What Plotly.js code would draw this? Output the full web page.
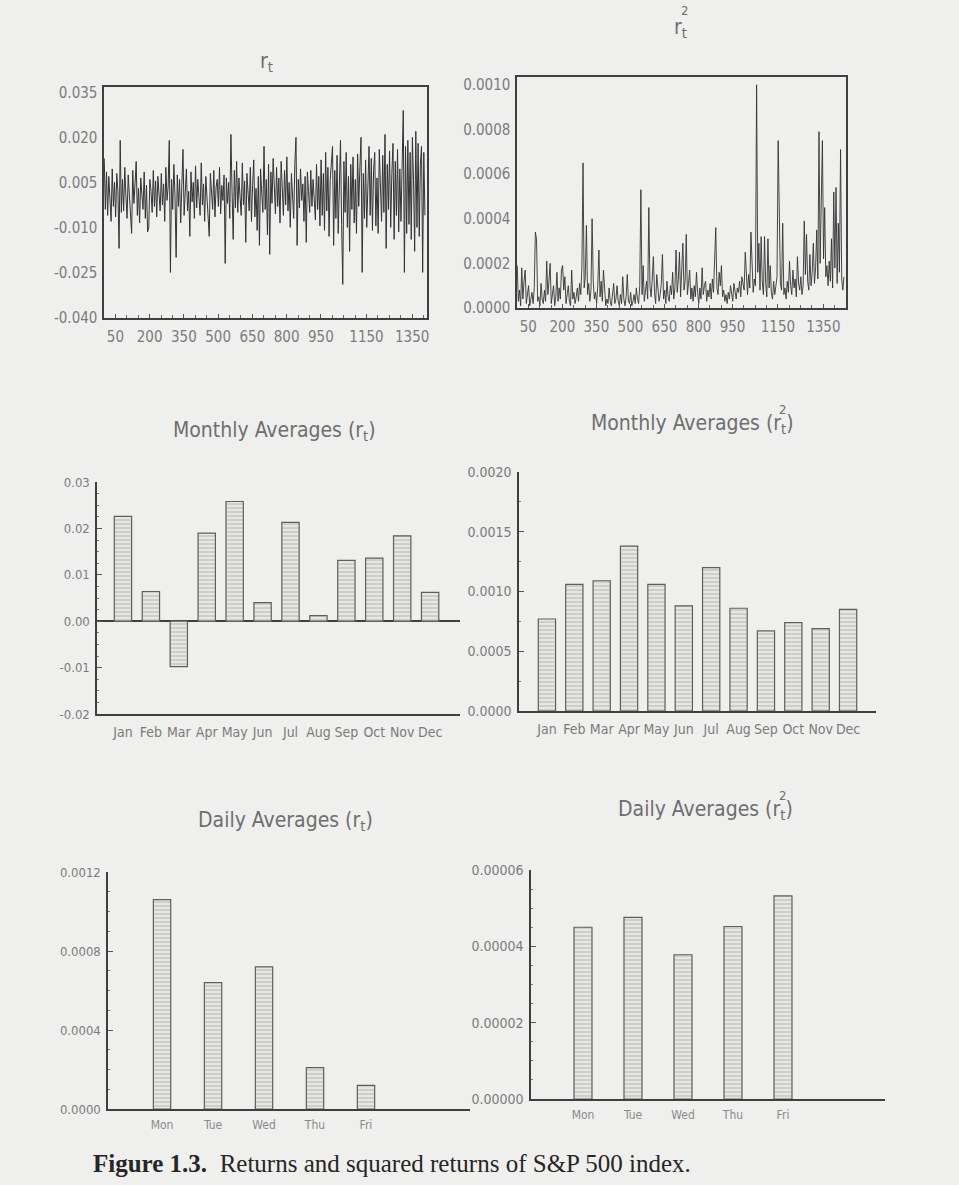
<!DOCTYPE html>
<html>
<head>
<meta charset="utf-8">
<script src="https://cdn.plot.ly/plotly-3.0.1.min.js"></script>
<style>
html,body{margin:0;padding:0;background:#efefed;}
#chart{width:959px;height:1185px;}
</style>
</head>
<body>
<div id="chart"></div>
<script>
// ---------------- DATA ----------------
// daily returns r_t (read every 5th trading day from the picture)
const returnsRt = [
 0.0130,-0.0040,0.0085,-0.0060,0.0070,0.0010,-0.0080,0.0095,-0.0030,0.0050,
 -0.0065,0.0080,0.0020,-0.0170,0.0190,-0.0050,0.0060,-0.0045,0.0100,0.0005,
 -0.0070,0.0075,0.0015,-0.0055,-0.0120,0.0090,-0.0020,0.0045,0.0120,-0.0060,
 0.0030,-0.0085,0.0065,0.0010,-0.0040,0.0085,-0.0070,0.0040,-0.0115,-0.0100,
 0.0060,0.0020,-0.0050,0.0090,-0.0030,0.0055,-0.0065,0.0070,0.0005,-0.0045,
 0.0080,-0.0025,0.0045,-0.0080,0.0100,-0.0010,0.0035,0.0190,-0.0250,0.0060,
 -0.0040,0.0110,0.0005,-0.0200,0.0075,-0.0030,0.0060,-0.0085,0.0040,0.0160,
 -0.0060,0.0030,0.0095,-0.0045,0.0020,-0.0130,0.0085,-0.0015,0.0050,-0.0070,
 0.0105,-0.0035,0.0060,0.0000,-0.0060,0.0115,-0.0025,0.0045,-0.0080,0.0070,
 0.0010,-0.0050,-0.0130,0.0080,0.0025,-0.0040,0.0090,-0.0065,0.0035,0.0060,
 -0.0030,0.0100,-0.0055,0.0040,-0.0010,0.0075,-0.0220,0.0065,-0.0020,0.0050,
 -0.0070,0.0210,0.0020,-0.0140,0.0090,-0.0035,0.0120,-0.0050,0.0065,0.0010,
 -0.0060,0.0115,-0.0025,0.0055,-0.0150,0.0080,0.0005,-0.0045,0.0100,-0.0080,
 0.0040,0.0125,-0.0065,0.0030,-0.0110,0.0070,-0.0160,0.0095,0.0015,-0.0050,
 0.0170,-0.0040,0.0060,-0.0125,0.0110,-0.0190,0.0085,-0.0020,0.0130,0.0005,
 -0.0055,0.0100,-0.0030,0.0065,-0.0085,0.0120,0.0020,-0.0060,0.0090,-0.0025,
 0.0135,-0.0045,0.0050,-0.0100,0.0080,0.0010,-0.0070,0.0110,0.0200,-0.0160,
 0.0060,-0.0035,0.0095,-0.0010,0.0045,-0.0080,0.0070,-0.0150,0.0085,0.0020,
 -0.0050,0.0090,-0.0030,0.0060,0.0005,-0.0075,0.0110,-0.0040,0.0070,-0.0095,
 0.0125,-0.0060,0.0080,-0.0110,0.0150,-0.0045,0.0100,-0.0130,0.0060,0.0130,
 0.0170,-0.0160,0.0090,-0.0070,0.0140,-0.0120,0.0055,0.0190,-0.0090,-0.0290,
 0.0120,-0.0050,0.0150,-0.0100,0.0070,-0.0180,0.0110,-0.0040,0.0135,-0.0085,
 0.0060,-0.0120,0.0145,-0.0030,0.0100,0.0200,-0.0250,0.0080,-0.0070,0.0125,
 -0.0100,0.0050,0.0170,-0.0060,0.0130,-0.0110,0.0090,0.0150,-0.0095,0.0065,
 -0.0120,0.0160,0.0020,-0.0080,0.0140,-0.0050,0.0210,-0.0170,0.0110,-0.0040,
 0.0155,-0.0100,0.0080,0.0180,-0.0140,0.0120,-0.0060,0.0160,-0.0115,0.0095,
 -0.0080,0.0140,0.0290,-0.0250,0.0170,-0.0120,0.0190,-0.0090,0.0150,-0.0140,
 0.0200,0.0060,-0.0180,0.0220,-0.0100,0.0180,-0.0130,0.0110,0.0170,-0.0250,
 0.0150,-0.0060
];
// squared returns r_t^2 (read every 5th trading day from the picture)
const squaredRt2 = [
 0.00019,0.00003,0.00008,0.00001,0.00018,0.00004,0.00012,0.00017,0.00002,0.00006,
 0.00010,0.00001,0.00004,0.00007,0.00002,0.00009,0.00034,0.00031,0.00003,0.00005,
 0.00001,0.00011,0.00004,0.00002,0.00008,0.00003,0.00021,0.00006,0.00012,0.00020,
 0.00002,0.00007,0.00010,0.00001,0.00005,0.00016,0.00003,0.00009,0.00004,0.00017,
 0.00019,0.00008,0.00014,0.00002,0.00006,0.00010,0.00003,0.00001,0.00017,0.00004,
 0.00007,0.00002,0.00005,0.00009,0.00003,0.00011,0.00006,0.00018,0.00065,0.00009,
 0.00014,0.00037,0.00006,0.00011,0.00003,0.00008,0.00040,0.00012,0.00004,0.00007,
 0.00002,0.00010,0.00026,0.00005,0.00012,0.00003,0.00017,0.00006,0.00001,0.00004,
 0.00002,0.00009,0.00003,0.00001,0.00006,0.00011,0.00002,0.00004,0.00010,0.00003,
 0.00001,0.00006,0.00002,0.00014,0.00004,0.00001,0.00005,0.00015,0.00003,0.00002,
 0.00007,0.00001,0.00003,0.00006,0.00002,0.00009,0.00004,0.00002,0.00010,0.00053,
 0.00006,0.00019,0.00003,0.00008,0.00012,0.00004,0.00045,0.00010,0.00005,0.00013,
 0.00023,0.00007,0.00002,0.00015,0.00009,0.00003,0.00006,0.00011,0.00024,0.00004,
 0.00008,0.00002,0.00012,0.00005,0.00003,0.00010,0.00006,0.00016,0.00004,0.00009,
 0.00026,0.00007,0.00013,0.00025,0.00005,0.00015,0.00029,0.00008,0.00012,0.00033,
 0.00006,0.00011,0.00017,0.00004,0.00009,0.00003,0.00010,0.00005,0.00016,0.00007,
 0.00002,0.00009,0.00004,0.00018,0.00006,0.00010,0.00012,0.00003,0.00008,0.00005,
 0.00011,0.00004,0.00013,0.00007,0.00021,0.00036,0.00009,0.00006,0.00016,0.00010,
 0.00019,0.00005,0.00008,0.00003,0.00006,0.00002,0.00007,0.00004,0.00010,0.00005,
 0.00003,0.00011,0.00006,0.00004,0.00009,0.00007,0.00012,0.00005,0.00014,0.00010,
 0.00008,0.00025,0.00012,0.00006,0.00015,0.00009,0.00034,0.00018,0.00007,0.00013,
 0.00010,0.00100,0.00016,0.00029,0.00008,0.00032,0.00012,0.00006,0.00032,0.00011,
 0.00005,0.00031,0.00009,0.00019,0.00007,0.00004,0.00012,0.00006,0.00010,0.00014,
 0.00075,0.00051,0.00011,0.00008,0.00038,0.00006,0.00009,0.00004,0.00012,0.00007,
 0.00021,0.00010,0.00006,0.00017,0.00009,0.00013,0.00005,0.00023,0.00011,0.00008,
 0.00014,0.00006,0.00010,0.00039,0.00015,0.00033,0.00012,0.00008,0.00024,0.00010,
 0.00016,0.00029,0.00011,0.00018,0.00035,0.00013,0.00079,0.00020,0.00049,0.00075,
 0.00022,0.00045,0.00014,0.00019,0.00010,0.00021,0.00012,0.00031,0.00009,0.00052,
 0.00018,0.00054,0.00011,0.00038,0.00016,0.00071,0.00013,0.00008,0.00014
];
const dayStep = 5;

const seriesXTicks = [50, 200, 350, 500, 650, 800, 950, 1150, 1350];
const rtYTickVals = [0.035, 0.020, 0.005, -0.010, -0.025, -0.040];
const rtYTickText = ['0.035', '0.020', '0.005', '-0.010', '-0.025', '-0.040'];
const rt2YTickVals = [0, 0.0002, 0.0004, 0.0006, 0.0008, 0.0010];
const rt2YTickText = ['0.0000', '0.0002', '0.0004', '0.0006', '0.0008', '0.0010'];

const monthLabels = ['Jan','Feb','Mar','Apr','May','Jun','Jul','Aug','Sep','Oct','Nov','Dec'];
const monthlyRt  = [0.0226, 0.0064, -0.0098, 0.0190, 0.0258, 0.0040, 0.0213, 0.0012, 0.0131, 0.0136, 0.0184, 0.0062];
const monthlyRt2 = [0.00077, 0.00106, 0.00109, 0.00138, 0.00106, 0.00088, 0.00120, 0.00086, 0.00067, 0.00074, 0.00069, 0.00085];
const monthlyRtTickVals  = [0.03, 0.02, 0.01, 0.00, -0.01, -0.02];
const monthlyRtTickText  = ['0.03', '0.02', '0.01', '0.00', '-0.01', '-0.02'];
const monthlyRt2TickVals = [0, 0.0005, 0.0010, 0.0015, 0.0020];
const monthlyRt2TickText = ['0.0000', '0.0005', '0.0010', '0.0015', '0.0020'];

const dayLabels = ['Mon','Tue','Wed','Thu','Fri'];
const dailyRt  = [0.00106, 0.00064, 0.00072, 0.00021, 0.00012];
const dailyRt2 = [0.0000450, 0.0000476, 0.0000378, 0.0000452, 0.0000532];
const dailyRtTickVals  = [0, 0.0004, 0.0008, 0.0012];
const dailyRtTickText  = ['0.0000', '0.0004', '0.0008', '0.0012'];
const dailyRt2TickVals = [0, 0.00002, 0.00004, 0.00006];
const dailyRt2TickText = ['0.00000', '0.00002', '0.00004', '0.00006'];

// ---------------- LAYOUT HELPERS ----------------
const W = 959, H = 1185;
const NARROW = '"DejaVu Sans Condensed", "Liberation Sans Narrow", sans-serif';
const LABEL = '#7b7b7b';
const AXIS = '#3f3f3f';
function dx(a, b) { return [a / W, b / W]; }
function dy(top, bottom) { return [1 - bottom / H, 1 - top / H]; }

const returnsDays = returnsRt.map((_, i) => 1 + dayStep * i);
const squaredDays = squaredRt2.map((_, i) => 1 + dayStep * i);
const minorSeriesTicks = [];
for (let v = 0; v <= 1450; v += 50) minorSeriesTicks.push(v);

const barMarker = {
  color: '#e6e6e3',
  line: { color: '#5e5e5e', width: 1.2 },
  pattern: { shape: '-', fgcolor: '#b5b5b2', bgcolor: '#e6e6e3', size: 4, solidity: 0.25 }
};

const traces = [
  { type: 'scatter', mode: 'lines', x: returnsDays, y: returnsRt, xaxis: 'x', yaxis: 'y',
    line: { color: '#333333', width: 1.0 }, hoverinfo: 'skip' },
  { type: 'scatter', mode: 'lines', x: squaredDays, y: squaredRt2, xaxis: 'x2', yaxis: 'y2',
    line: { color: '#333333', width: 0.9 }, hoverinfo: 'skip' },
  { type: 'bar', x: monthLabels, y: monthlyRt, xaxis: 'x3', yaxis: 'y3', width: 0.62, marker: barMarker },
  { type: 'bar', x: monthLabels, y: monthlyRt2, xaxis: 'x4', yaxis: 'y4', width: 0.63, marker: barMarker },
  { type: 'bar', x: dayLabels, y: dailyRt, xaxis: 'x5', yaxis: 'y5', width: 0.34, marker: barMarker },
  { type: 'bar', x: dayLabels, y: dailyRt2, xaxis: 'x6', yaxis: 'y6', width: 0.36, marker: barMarker }
];

function frameX(anchor, domain, range, size) {
  return {
    anchor: anchor, domain: domain, range: range, showgrid: false, zeroline: false,
    showline: true, mirror: true, linecolor: AXIS, linewidth: 1.6,
    tickmode: 'array', tickvals: seriesXTicks, ticktext: seriesXTicks.map(String),
    ticks: 'inside', ticklen: 4, tickcolor: '#555',
    minor: { tickmode: 'array', tickvals: minorSeriesTicks, ticks: 'inside', ticklen: 3, tickcolor: '#666' },
    tickfont: { family: NARROW, size: size, color: LABEL }, ticklabelstandoff: 4
  };
}
function frameY(anchor, domain, range, vals, text, size) {
  return {
    anchor: anchor, domain: domain, range: range, showgrid: false, zeroline: false,
    showline: true, mirror: true, linecolor: AXIS, linewidth: 1.6,
    tickmode: 'array', tickvals: vals, ticktext: text, ticks: '',
    tickfont: { family: NARROW, size: size, color: LABEL }, ticklabelstandoff: 2
  };
}
function barX(anchor, domain, range, size, standoff, color) {
  return {
    anchor: anchor, domain: domain, range: range, type: 'category', showgrid: false, zeroline: false,
    showline: true, linecolor: AXIS, linewidth: 1.6, ticks: '',
    tickfont: { family: NARROW, size: size, color: color || LABEL }, ticklabelstandoff: standoff
  };
}
function barY(anchor, domain, range, vals, text, size, minorStep) {
  return {
    anchor: anchor, domain: domain, range: range, showgrid: false, zeroline: false,
    showline: true, linecolor: AXIS, linewidth: 1.6,
    tickmode: 'array', tickvals: vals, ticktext: text,
    ticks: 'inside', ticklen: 5, tickcolor: '#555',
    minor: { tickmode: 'linear', tick0: 0, dtick: minorStep, ticks: 'inside', ticklen: 2, tickcolor: '#777' },
    tickfont: { family: NARROW, size: size, color: LABEL }, ticklabelstandoff: 3
  };
}

const titleFont = { family: NARROW, size: 21, color: '#6e6e6e' };
function ann(text, px, py, font, anchor) {
  return { text: text, x: px / W, y: 1 - py / H, xref: 'paper', yref: 'paper',
    xanchor: anchor || 'center', yanchor: 'middle', showarrow: false, font: font || titleFont };
}
const supFont = { family: NARROW, size: 13, color: '#6e6e6e' };

const layout = {
  width: W, height: H,
  margin: { l: 0, r: 0, t: 0, b: 0 },
  paper_bgcolor: '#efefed', plot_bgcolor: 'rgba(0,0,0,0)',
  showlegend: false, bargap: 0,
  xaxis:  frameX('y', dx(104, 427), [0, 1415], 15),
  yaxis:  frameY('x', dy(87, 318), [-0.0402, 0.0368], rtYTickVals, rtYTickText, 15),
  xaxis2: frameX('y2', dx(517, 846), [0, 1450], 15),
  yaxis2: frameY('x2', dy(77, 308), [0, 0.001035], rt2YTickVals, rt2YTickText, 15),
  xaxis3: barX('y3', dx(97, 460), [-0.93, 12.07], 14, 5),
  yaxis3: Object.assign(barY('x3', dy(482, 714), [-0.02, 0.03], monthlyRtTickVals, monthlyRtTickText, 13, 0.0025),
                        { zeroline: true, zerolinecolor: AXIS, zerolinewidth: 1.6 }),
  xaxis4: barX('y4', dx(519, 876), [-1.02, 12.02], 14, 5),
  yaxis4: barY('x4', dy(472, 711), [0, 0.0020], monthlyRt2TickVals, monthlyRt2TickText, 14, 0.00025),
  xaxis5: barX('y5', dx(108, 470), [-1.06, 6.04], 12, 4, '#8a8a8a'),
  yaxis5: barY('x5', dy(872, 1109), [0, 0.0012], dailyRtTickVals, dailyRtTickText, 13, 0.0001),
  xaxis6: barX('y6', dx(531, 885), [-1.04, 6.04], 12, 4, '#8a8a8a'),
  yaxis6: barY('x6', dy(870, 1099), [0, 0.00006], dailyRt2TickVals, dailyRt2TickText, 14, 0.000005),
  annotations: [
    ann('r<sub>t</sub>', 266, 62),
    ann('r<sub>t</sub>', 680, 28),
    ann('2', 684, 10, supFont),
    ann('Monthly Averages (r<sub>t</sub>)', 274, 431),
    ann('Monthly Averages (r<sub>t</sub>)', 692, 424),
    ann('2', 782, 409, supFont),
    ann('Daily Averages (r<sub>t</sub>)', 285, 821),
    ann('Daily Averages (r<sub>t</sub>)', 705, 810),
    ann('2', 782, 795, supFont),
    ann('<b>Figure 1.3.</b>  Returns and squared returns of S&amp;P 500 index.', 91, 1163,
        { family: '"Liberation Serif", "Times New Roman", serif', size: 25, color: '#262626' }, 'left')
  ]
};

Plotly.newPlot('chart', traces, layout, { staticPlot: true, displayModeBar: false });
</script>
</body>
</html>
